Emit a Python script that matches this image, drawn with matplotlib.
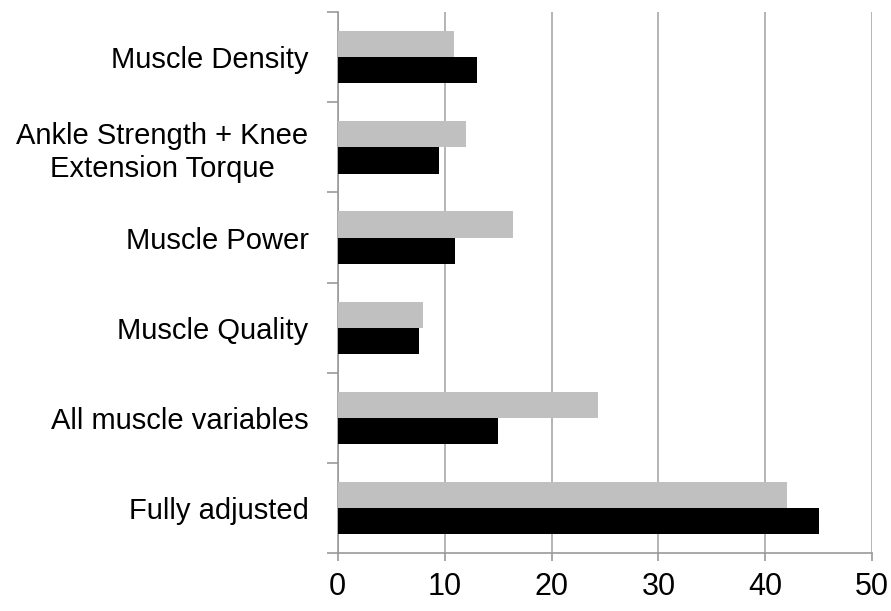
import matplotlib
matplotlib.use("Agg")
import matplotlib.pyplot as plt
import numpy as np

# data, top to bottom
categories = ["Muscle Density", "Ankle Strength + Knee\nExtension Torque", "Muscle Power",
              "Muscle Quality", "All muscle variables", "Fully adjusted"]
gray_vals = [10.9, 12.0, 16.4, 8.0, 24.3, 42.0]
black_vals = [13.0, 9.5, 11.0, 7.6, 15.0, 45.0]
xticks = [0, 10, 20, 30, 40, 50]

plt.rcParams['font.family'] = ['Liberation Sans', 'DejaVu Sans']

fig = plt.figure(figsize=(8.91, 6.11), dpi=100)
ax = fig.add_axes([0.379, 0.095, 0.6, 0.885])

n = len(categories)
pos = np.arange(n)[::-1] + 0.5
h = 0.29
ax.barh(pos + h / 2, gray_vals, height=h, color="#c0c0c0", zorder=3)
ax.barh(pos - h / 2, black_vals, height=h, color="black", zorder=3)

ax.set_xlim(0, 50)
ax.set_ylim(0, n)
ax.set_xticks(xticks)
ax.set_xticklabels([str(t) for t in xticks], fontsize=22)
ax.xaxis.grid(True, color="#a8a8a8", linewidth=1.2, zorder=0)

# category labels at the bar centres, ticks at the boundaries
ax.set_yticks(np.arange(n + 1))
ax.set_yticklabels([])
ax.set_yticks(pos, minor=True)
ax.set_yticklabels(categories, minor=True, fontsize=21, ha="right", multialignment="center")
ax.tick_params(axis="y", which="minor", length=0, pad=21)
ax.tick_params(axis="y", which="major", length=8, color="#999999", width=1.2)
ax.tick_params(axis="x", length=6, color="#999999", width=1.2, pad=8)

for s in ["top", "right"]:
    ax.spines[s].set_visible(False)
for s in ["left", "bottom"]:
    ax.spines[s].set_color("#999999")
    ax.spines[s].set_linewidth(1.2)

fig.savefig("out.png", dpi=100)
